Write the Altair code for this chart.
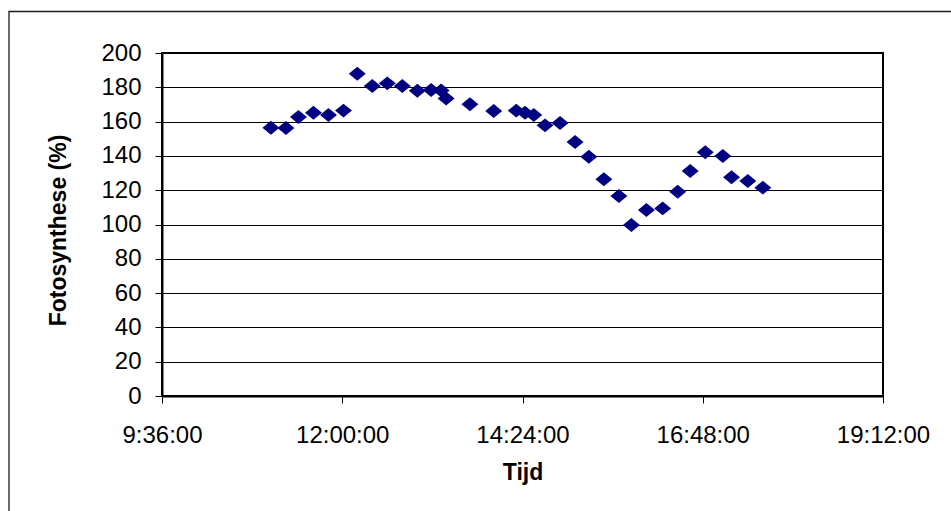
import altair as alt
import pandas as pd

# Measurement times (h:mm) and photosynthesis values (%)
tijden = ["11:03", "11:15", "11:25", "11:37", "11:49", "12:01", "12:12", "12:24",
          "12:36", "12:48", "13:00", "13:11", "13:19", "13:23", "13:42", "14:01",
          "14:19", "14:26", "14:33", "14:42", "14:54", "15:06", "15:17", "15:29",
          "15:41", "15:51", "16:03", "16:16", "16:28", "16:38", "16:50", "17:04",
          "17:11", "17:24", "17:36"]
fotosynthese = [156.4, 156.3, 162.7, 165.2, 163.8, 166.4, 187.9, 180.8,
                182.3, 180.8, 178.0, 178.4, 178.1, 173.5, 170.1, 166.2,
                166.4, 165.2, 163.8, 157.8, 159.2, 148.1, 139.5, 126.4,
                116.6, 99.7, 108.5, 109.4, 119.1, 131.2, 142.1, 139.9,
                127.5, 125.4, 121.5]

# axis ticks (minutes after midnight): 9:36, 12:00, 14:24, 16:48, 19:12
x_ticks = [576, 720, 864, 1008, 1152]
y_ticks = [0, 20, 40, 60, 80, 100, 120, 140, 160, 180, 200]


def to_minutes(t):
    h, m = t.split(":")
    return int(h) * 60 + int(m)


df = pd.DataFrame({
    "tijd": tijden,
    "minuten": [to_minutes(t) for t in tijden],
    "fotosynthese": fotosynthese,
})

FONT = "Liberation Sans"

label_expr = ("floor(datum.value / 60) + ':' + (datum.value % 60 < 10 ? '0' : '') "
              "+ (datum.value % 60) + ':00'")

points = alt.Chart(df).mark_point(
    shape="M-1.13,0L0,-0.93L1.13,0L0,0.93Z",
    filled=True,
    size=225,
    color="#000080",
    opacity=1,
    strokeWidth=0,
).encode(
    x=alt.X("minuten:Q",
            scale=alt.Scale(domain=[576, 1152], nice=False, zero=False),
            axis=alt.Axis(values=x_ticks, labelExpr=label_expr, title="Tijd",
                          grid=False, labelFlush=False, labelPadding=20,
                          titleY=76, titleBaseline="middle")),
    y=alt.Y("fotosynthese:Q",
            scale=alt.Scale(domain=[0, 200], nice=False),
            axis=alt.Axis(values=y_ticks, title="Fotosynthese (%)", grid=True,
                          labelPadding=14,
                          titleX=-104, titleY=177, titleAngle=-90,
                          titleAlign="center", titleBaseline="middle")),
)

frame = alt.Chart(pd.DataFrame({"f": [0]})).mark_rect(
    fillOpacity=0, stroke="#1a1a1a", strokeWidth=1.3
).encode(
    x=alt.value(-153), x2=alt.value(900),
    y=alt.value(-41.5), y2=alt.value(600),
)

chart = alt.layer(frame, points).properties(
    width=721,
    height=343,
    padding={"left": 162, "top": 53, "right": 68, "bottom": 115},
    autosize=alt.AutoSizeParams(type="none"),
    background="white",
).configure_view(
    stroke="black", strokeWidth=2
).configure_axis(
    labelFont=FONT, labelFontSize=24, labelColor="black",
    titleFont=FONT, titleFontSize=23, titleFontWeight="bold", titleColor="black",
    domainColor="black", domainWidth=2,
    tickColor="black", tickSize=7, tickWidth=1,
    gridColor="black", gridWidth=1, gridOpacity=1,
)

chart.save("out.html", embed_options={"renderer": "svg", "actions": False})
